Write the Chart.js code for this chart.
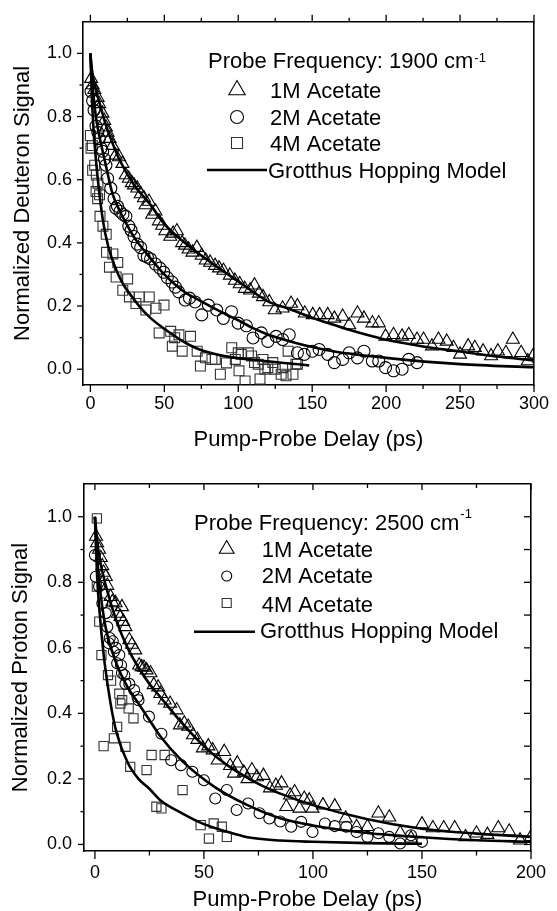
<!DOCTYPE html>
<html>
<head>
<meta charset="utf-8">
<script src="https://cdn.jsdelivr.net/npm/chart.js@4.4.1/dist/chart.umd.min.js"></script>
<style>
html,body{margin:0;padding:0;background:#fff;width:557px;height:911px;overflow:hidden}
.box{position:absolute;left:0;width:557px}
canvas{display:block}
</style>
</head>
<body>
<div class="box" style="top:0;height:460px"><canvas id="c1" width="557" height="460"></canvas></div>
<div class="box" style="top:460px;height:451px"><canvas id="c2" width="557" height="451"></canvas></div>
<script>
// ================= DATA =================
const seriesLabels = ['1M Acetate', '2M Acetate', '4M Acetate', 'Grotthus Hopping Model'];
const xTitle = 'Pump-Probe Delay (ps)';
const topYTitle = 'Normalized Deuteron Signal';
const botYTitle = 'Normalized Proton Signal';
const topLegendTitle = 'Probe Frequency: 1900 cm';
const botLegendTitle = 'Probe Frequency: 2500 cm';
const legendSup = '-1';

// tick values
const topXMajor = [0, 50, 100, 150, 200, 250, 300];
const topXMinor = [25, 75, 125, 175, 225, 275];
const botXMajor = [0, 50, 100, 150, 200];
const botXMinor = [25, 75, 125, 175];
const yMajor = [0, 0.2, 0.4, 0.6, 0.8, 1.0];
const yMinor = [0.1, 0.3, 0.5, 0.7, 0.9];
const yAll = [0, 0.1, 0.2, 0.3, 0.4, 0.5, 0.6, 0.7, 0.8, 0.9, 1.0];

// ---- top panel (1900 cm-1) ----
const top1M_t = [0.5, 1.5, 2.7, 4.9, 6, 8.2, 9.4, 10.5, 11.6, 13, 15, 17, 19.4, 21.7, 23.9, 26, 28, 29.5, 31.7, 34, 36.2, 37.3, 39.6, 41.8, 44, 46.3, 48.5, 50.7, 54, 56, 58.5, 62, 64, 66.4, 69, 72, 75.3, 78, 81, 84.3, 87, 90, 94.3, 97.7, 101, 104.4, 108, 111, 114, 116.7, 121, 124.7, 130, 135.7, 140, 145, 150.4, 155, 160.5, 165, 170.6, 175, 180.6, 185, 190.7, 195, 199.6, 205, 210.8, 215.3, 220.9, 225.3, 231, 235.4, 241, 245.5, 250, 255.5, 260, 265.6, 271, 275.6, 281, 285.7, 291.3, 295.8, 300];
const top1M_v = [0.92, 0.9, 0.885, 0.86, 0.84, 0.81, 0.787, 0.766, 0.75, 0.73, 0.708, 0.677, 0.672, 0.651, 0.615, 0.604, 0.59, 0.583, 0.573, 0.555, 0.542, 0.52, 0.531, 0.49, 0.5, 0.469, 0.455, 0.4375, 0.42, 0.43, 0.4375, 0.4, 0.392, 0.38, 0.37, 0.385, 0.36, 0.345, 0.338, 0.328, 0.32, 0.3125, 0.297, 0.281, 0.27, 0.255, 0.25, 0.266, 0.24, 0.229, 0.213, 0.1875, 0.193, 0.208, 0.2, 0.177, 0.172, 0.172, 0.172, 0.161, 0.167, 0.14, 0.177, 0.161, 0.146, 0.146, 0.104, 0.109, 0.104, 0.109, 0.094, 0.094, 0.073, 0.094, 0.088, 0.068, 0.047, 0.073, 0.068, 0.057, 0.042, 0.057, 0.052, 0.094, 0.052, 0.026, 0.047];

const top2M_t = [0.4, 1.5, 2.5, 3.8, 5, 6, 7.2, 8.3, 9.5, 10.5, 11.6, 13.8, 16, 17.2, 18.3, 20, 22, 24, 26, 27.5, 29.5, 31.7, 34, 36.2, 38.5, 40.7, 44, 47, 49.6, 52, 55.2, 57.5, 59.7, 64.1, 67, 70.8, 75.3, 79.8, 85.4, 89.9, 95.4, 99.9, 105.5, 110, 115.6, 120, 125.6, 130, 134.5, 140, 144.6, 150.2, 154.7, 160.5, 165, 170.6, 175, 180.6, 185, 190.7, 195, 199.6, 205, 210.8, 215.3, 220.9];
const top2M_v = [0.88, 0.85, 0.82, 0.77, 0.75, 0.73, 0.7, 0.69, 0.665, 0.646, 0.604, 0.573, 0.54, 0.51, 0.516, 0.5, 0.49, 0.484, 0.453, 0.44, 0.42, 0.396, 0.385, 0.36, 0.355, 0.349, 0.333, 0.32, 0.307, 0.29, 0.276, 0.26, 0.245, 0.219, 0.225, 0.213, 0.172, 0.203, 0.1875, 0.161, 0.182, 0.146, 0.1375, 0.099, 0.115, 0.088, 0.104, 0.094, 0.109, 0.052, 0.047, 0.057, 0.0625, 0.047, 0.021, 0.031, 0.052, 0.036, 0.057, 0.026, 0.026, 0.005, -0.005, 0, 0.031, 0.021];

const top4M_t = [0, 0.4, 1.3, 1.5, 2.9, 3.8, 4, 4.9, 5.1, 6.2, 6.5, 8.5, 10.7, 10.9, 12.9, 15.2, 17.4, 18.5, 21.9, 25.2, 26.4, 30.8, 33, 37.5, 39.8, 44.3, 46.5, 49.8, 54.3, 55.4, 57, 59.9, 62.1, 67.7, 72.2, 74.4, 77.8, 82.2, 84.5, 87.9, 92, 95.6, 98, 100, 100.5, 102, 104.6, 106.8, 109, 111, 113.5, 114.7, 116.7, 118, 120, 123.4, 125, 129, 130, 132.3, 133.7, 137, 139, 140];
const top4M_v = [0.74, 0.7, 0.708, 0.63, 0.646, 0.5625, 0.615, 0.54, 0.589, 0.552, 0.484, 0.453, 0.427, 0.37, 0.323, 0.365, 0.292, 0.338, 0.25, 0.286, 0.229, 0.208, 0.229, 0.1875, 0.229, 0.193, 0.115, 0.203, 0.12, 0.073, 0.1, 0.109, 0.057, 0.104, 0.057, 0.01, 0.036, 0.031, 0.031, -0.016, 0.02, 0.068, 0.031, 0.052, -0.005, 0.047, -0.037, 0.052, 0.042, 0.021, 0.016, -0.031, 0.031, 0, 0.005, 0.021, 0, -0.016, 0.005, -0.021, 0.057, -0.016, 0.016, 0.016];

const topFit1M_t = [0, 1, 2, 4, 7, 10, 15, 20, 30, 40, 50, 60, 75, 90, 100, 110, 120, 135, 150, 165, 175, 190, 200, 225, 250, 275, 300];
const topFit1M_v = [1.0, 0.95, 0.92, 0.88, 0.83, 0.78, 0.715, 0.66, 0.58, 0.525, 0.46, 0.415, 0.36, 0.31, 0.278, 0.245, 0.215, 0.19, 0.163, 0.14, 0.125, 0.105, 0.093, 0.072, 0.056, 0.04, 0.028];
const topFit2M_t = [0, 1, 2, 4, 6, 10, 15, 20, 25, 30, 40, 50, 62, 75, 89, 100, 110, 120, 130, 150, 165, 200, 250, 300];
const topFit2M_v = [1.0, 0.92, 0.87, 0.79, 0.74, 0.655, 0.555, 0.5, 0.455, 0.415, 0.355, 0.3, 0.25, 0.215, 0.18, 0.155, 0.13, 0.11, 0.095, 0.07, 0.056, 0.036, 0.016, 0.006];
const topFit4M_t = [0, 1, 2, 4, 6, 8.5, 12, 17, 22, 28, 33, 40, 50, 62, 73, 89, 100, 120, 135, 148];
const topFit4M_v = [1.0, 0.86, 0.77, 0.65, 0.56, 0.47, 0.39, 0.32, 0.27, 0.23, 0.2, 0.165, 0.128, 0.09, 0.064, 0.043, 0.035, 0.025, 0.018, 0.012];

// ---- bottom panel (2500 cm-1) ----
const bot1M_t = [0.5, 1, 1.9, 2.7, 3.4, 4, 5, 5.7, 7.2, 8, 9.5, 10.5, 11.7, 12.4, 13, 14, 15.8, 17, 18.5, 20.3, 21.4, 22.5, 23.7, 25.5, 27, 29, 30, 32, 34.5, 37.5, 39, 41, 42.8, 45, 47, 49.5, 52, 54, 56.3, 59.3, 62, 63.8, 65.3, 68.3, 70, 72, 74.3, 77.3, 80.3, 83, 85.6, 87.8, 89.5, 91.6, 93.8, 96, 98.3, 99.8, 104.6, 110, 115, 120, 125, 130, 135, 140, 145, 150, 155, 160, 165, 170, 175, 180, 185, 190, 195, 200];
const bot1M_v = [0.94, 0.92, 0.9, 0.875, 0.85, 0.83, 0.817, 0.79, 0.756, 0.74, 0.737, 0.705, 0.695, 0.725, 0.68, 0.664, 0.624, 0.61, 0.593, 0.547, 0.542, 0.54, 0.532, 0.523, 0.487, 0.48, 0.46, 0.44, 0.43, 0.41, 0.364, 0.37, 0.36, 0.334, 0.32, 0.294, 0.3, 0.288, 0.257, 0.283, 0.24, 0.217, 0.248, 0.22, 0.2, 0.227, 0.206, 0.21, 0.172, 0.18, 0.187, 0.115, 0.15, 0.16, 0.11, 0.14, 0.135, 0.11, 0.12, 0.117, 0.08, 0.054, 0.054, 0.095, 0.083, 0.035, 0.019, 0.062, 0.05, 0.05, 0.05, 0.023, 0.034, 0.03, 0.05, 0.04, 0.013, 0.023];

const bot2M_t = [0, 0.4, 1.9, 3.4, 5, 5.7, 6.4, 6.8, 8.2, 8.7, 9.7, 10.2, 11.2, 12, 12.4, 13.5, 14, 15.8, 18, 19.5, 20, 24.8, 30.5, 35, 39.5, 44.7, 50, 55.2, 60.5, 65, 70.3, 75.5, 80, 85, 90, 94.6, 99.8, 105.5, 110, 115.3, 120, 125, 130, 135, 140, 145, 150];
const bot2M_v = [0.883, 0.817, 0.787, 0.736, 0.706, 0.664, 0.614, 0.63, 0.62, 0.588, 0.6, 0.553, 0.578, 0.547, 0.523, 0.517, 0.49, 0.49, 0.471, 0.45, 0.44, 0.39, 0.338, 0.257, 0.242, 0.222, 0.196, 0.14, 0.166, 0.105, 0.125, 0.095, 0.079, 0.07, 0.054, 0.069, 0.038, 0.064, 0.056, 0.054, 0.038, 0.023, 0.034, 0.023, 0.003, 0.028, 0.008];

const bot4M_t = [0.9, 0.9, 2, 3, 4, 6, 7.4, 8.7, 10.2, 11.2, 11.7, 12.5, 14, 15.5, 16.2, 17.7, 23.7, 26, 28.2, 30.5, 32, 40.2, 48.5, 52.3, 54.5, 58.2, 60.5];
const bot4M_v = [0.995, 0.787, 0.68, 0.578, 0.3, 0.517, 0.5, 0.324, 0.359, 0.46, 0.43, 0.44, 0.298, 0.415, 0.237, 0.385, 0.227, 0.273, 0.115, 0.11, 0.273, 0.166, 0.059, 0.018, 0.064, 0.054, 0.023];

const botFit1M_t = [0, 1, 2, 5, 10, 15, 20, 25, 30, 40, 50, 60, 75, 85, 100, 125, 150, 175, 200];
const botFit1M_v = [1.0, 0.93, 0.88, 0.79, 0.68, 0.6, 0.54, 0.49, 0.45, 0.37, 0.3, 0.245, 0.185, 0.155, 0.12, 0.077, 0.048, 0.033, 0.023];
const botFit2M_t = [0, 1, 2, 5, 10, 15, 20, 25, 30, 40, 55, 70, 85, 100, 125, 150, 175, 200];
const botFit2M_v = [1.0, 0.88, 0.8, 0.66, 0.55, 0.48, 0.43, 0.38, 0.33, 0.255, 0.175, 0.12, 0.08, 0.058, 0.035, 0.022, 0.013, 0.008];
const botFit4M_t = [0, 1, 2, 4, 6, 8, 10, 15, 20, 25, 30, 40, 50, 60, 70, 85, 100, 125, 150];
const botFit4M_v = [1.0, 0.82, 0.72, 0.58, 0.48, 0.4, 0.34, 0.25, 0.2, 0.17, 0.135, 0.095, 0.062, 0.04, 0.022, 0.012, 0.008, 0.004, 0.002];

// ================= RENDERING =================
const FONT = "'Liberation Sans', Arial, Helvetica, sans-serif";
Chart.defaults.font.family = FONT;
Chart.defaults.color = '#000';

function pts(xs, ys) { return xs.map((x, i) => ({x: x, y: ys[i]})); }
function markers(label, xs, ys, style, r, color) {
  return {label: label, data: pts(xs, ys), showLine: false, pointStyle: style, pointRadius: r,
    pointBorderWidth: 1.1, pointBorderColor: color, pointBackgroundColor: 'rgba(0,0,0,0)', order: 2};
}
function curve(label, xs, ys) {
  return {label: label, data: pts(xs, ys), showLine: true, pointRadius: 0, borderColor: '#000',
    borderWidth: 2.6, cubicInterpolationMode: 'monotone', fill: false, order: 1};
}

function shape(ctx, style, x, y, r) {
  if (style === 'triangle') {
    ctx.moveTo(x, y - r);
    ctx.lineTo(x + r * Math.sin(2 * Math.PI / 3), y + r * 0.5);
    ctx.lineTo(x - r * Math.sin(2 * Math.PI / 3), y + r * 0.5);
    ctx.closePath();
  } else if (style === 'circle') {
    ctx.arc(x, y, r, 0, Math.PI * 2);
  } else {
    const s = r * Math.SQRT1_2;
    ctx.rect(x - s, y - s, 2 * s, 2 * s);
  }
}

function tickPlugin(marks) {
  return {id: 'tickMarks', afterDraw(chart) {
    const ctx = chart.ctx, a = chart.chartArea;
    ctx.save(); ctx.strokeStyle = '#000'; ctx.lineWidth = 1.3;
    for (const m of marks) {
      const sc = chart.scales[m.scale];
      for (const v of m.values) {
        const p = sc.getPixelForValue(v);
        ctx.beginPath();
        if (m.side === 'bottom') { ctx.moveTo(p, a.bottom); ctx.lineTo(p, a.bottom + m.len); }
        else if (m.side === 'top') { ctx.moveTo(p, a.top); ctx.lineTo(p, a.top - m.len); }
        else if (m.side === 'left') { ctx.moveTo(a.left, p); ctx.lineTo(a.left - m.len, p); }
        else { ctx.moveTo(a.right, p); ctx.lineTo(a.right + m.len, p); }
        ctx.stroke();
      }
    }
    ctx.restore();
  }};
}

function legendPlugin(spec) {
  return {id: 'legendBox', afterDraw(chart) {
    const ctx = chart.ctx;
    ctx.save();
    ctx.fillStyle = '#000'; ctx.strokeStyle = '#000';
    ctx.textAlign = 'left'; ctx.textBaseline = 'alphabetic';
    ctx.font = '22px ' + FONT;
    ctx.fillText(spec.title, spec.tx, spec.ty);
    const w = ctx.measureText(spec.title).width;
    ctx.font = '13px ' + FONT;
    ctx.fillText(legendSup, spec.tx + w + 1, spec.supY);
    ctx.font = '22px ' + FONT;
    spec.items.forEach((e, i) => {
      ctx.beginPath();
      if (e.kind === 'line') {
        ctx.lineWidth = 2.6;
        ctx.moveTo(e.x1, e.y); ctx.lineTo(e.x2, e.y);
        ctx.strokeStyle = '#000';
      } else {
        ctx.lineWidth = 1.1;
        ctx.strokeStyle = e.color;
        shape(ctx, e.style, e.x, e.y, e.r);
      }
      ctx.stroke();
      ctx.fillText(seriesLabels[i], e.textX, e.base);
    });
    ctx.restore();
  }};
}

function build(id, g) {
  const W = 557;
  const common = {type: 'linear', grid: {display: false, drawTicks: false},
    border: {display: true, color: '#000', width: 1.6}};
  return new Chart(document.getElementById(id), {
    type: 'scatter',
    data: {datasets: g.datasets},
    options: {
      responsive: false, animation: false, devicePixelRatio: 1, events: [],
      layout: {padding: 0},
      plugins: {legend: {display: false}, tooltip: {enabled: false}},
      scales: {
        x: Object.assign({}, common, {
          position: 'bottom', min: g.xmin, max: g.xmax,
          afterBuildTicks: s => { s.ticks = g.xMajor.map(v => ({value: v})); },
          ticks: {font: {size: 18}, color: '#000', padding: g.xPad, maxRotation: 0, autoSkip: false,
            callback: v => String(v)},
          title: {display: true, text: xTitle, color: '#000', font: {size: 22, lineHeight: 1},
            padding: {top: 0, bottom: g.xTitlePad}},
          afterFit: s => { s.height = g.H - g.bottom; }
        }),
        x2: Object.assign({}, common, {
          position: 'top', min: g.xmin, max: g.xmax,
          ticks: {display: false},
          afterFit: s => { s.height = g.top; }
        }),
        y: Object.assign({}, common, {
          position: 'left', min: g.ymin, max: g.ymax,
          afterBuildTicks: s => { s.ticks = yMajor.map(v => ({value: v})); },
          ticks: {font: {size: 18}, color: '#000', padding: g.yPad, autoSkip: false,
            callback: v => Number(v).toFixed(1)},
          title: {display: true, text: g.yTitle, color: '#000', font: {size: 22, lineHeight: 1},
            padding: {top: g.yTitlePad, bottom: 0}},
          afterFit: s => { s.width = g.left; }
        }),
        y2: Object.assign({}, common, {
          position: 'right', min: g.ymin, max: g.ymax,
          ticks: {display: false},
          afterFit: s => { s.width = W - g.right; }
        })
      }
    },
    plugins: [tickPlugin(g.marks), legendPlugin(g.legend)]
  });
}

// ---- top chart ----
build('c1', {
  H: 460, left: 83, right: 538, top: 19, bottom: 385,
  xmin: -5, xmax: 300, ymin: -0.05, ymax: 1.1,
  xMajor: topXMajor, xPad: 8, xTitlePad: 9, yPad: 11, yTitlePad: 12, yTitle: topYTitle,
  datasets: [
    markers(seriesLabels[0], top1M_t, top1M_v, 'triangle', 7.5, '#000'),
    markers(seriesLabels[1], top2M_t, top2M_v, 'circle', 6, '#000'),
    markers(seriesLabels[2], top4M_t, top4M_v, 'rect', 7, '#333'),
    curve(seriesLabels[3], topFit1M_t, topFit1M_v),
    curve(seriesLabels[3], topFit2M_t, topFit2M_v),
    curve(seriesLabels[3], topFit4M_t, topFit4M_v)
  ],
  marks: [
    {scale: 'x', side: 'bottom', values: topXMajor, len: 7},
    {scale: 'x', side: 'bottom', values: topXMinor, len: 4},
    {scale: 'x', side: 'top', values: topXMajor, len: 7},
    {scale: 'x', side: 'top', values: topXMinor, len: 4},
    {scale: 'y', side: 'left', values: yMajor, len: 6},
    {scale: 'y', side: 'left', values: yMinor, len: 3.5}
  ],
  legend: {
    title: topLegendTitle, tx: 208, ty: 68, supY: 62,
    items: [
      {kind: 'point', style: 'triangle', r: 9.5, x: 237, y: 90, color: '#000', textX: 270, base: 97.5},
      {kind: 'point', style: 'circle', r: 6.5, x: 237, y: 117, color: '#000', textX: 270, base: 124.5},
      {kind: 'point', style: 'rect', r: 7.8, x: 237, y: 143, color: '#333', textX: 270, base: 151},
      {kind: 'line', x1: 207, x2: 267, y: 170, textX: 268, base: 178}
    ]
  }
});

// ---- bottom chart ----
build('c2', {
  H: 451, left: 84, right: 541, top: 24, bottom: 391,
  xmin: -5, xmax: 200, ymin: -0.02, ymax: 1.1,
  xMajor: botXMajor, xPad: 11, xTitlePad: 0, yPad: 12, yTitlePad: 10, yTitle: botYTitle,
  datasets: [
    markers(seriesLabels[0], bot1M_t, bot1M_v, 'triangle', 7.5, '#000'),
    markers(seriesLabels[1], bot2M_t, bot2M_v, 'circle', 5.5, '#000'),
    markers(seriesLabels[2], bot4M_t, bot4M_v, 'rect', 6.5, '#333'),
    curve(seriesLabels[3], botFit1M_t, botFit1M_v),
    curve(seriesLabels[3], botFit2M_t, botFit2M_v),
    curve(seriesLabels[3], botFit4M_t, botFit4M_v)
  ],
  marks: [
    {scale: 'x', side: 'bottom', values: botXMajor, len: 8},
    {scale: 'x', side: 'bottom', values: botXMinor, len: 4.5},
    {scale: 'x', side: 'top', values: botXMajor, len: -6},
    {scale: 'x', side: 'top', values: botXMinor, len: -4},
    {scale: 'y', side: 'left', values: yMajor, len: 6},
    {scale: 'y', side: 'left', values: yMinor, len: 3.5},
    {scale: 'y', side: 'right', values: yAll, len: -7}
  ],
  legend: {
    title: botLegendTitle, tx: 194, ty: 70, supY: 57.5,
    items: [
      {kind: 'point', style: 'triangle', r: 8.5, x: 226.7, y: 89, color: '#000', textX: 261.7, base: 96.7},
      {kind: 'point', style: 'circle', r: 5, x: 226.7, y: 116, color: '#000', textX: 261.7, base: 123.3},
      {kind: 'point', style: 'rect', r: 6.4, x: 226.7, y: 143, color: '#333', textX: 261.7, base: 151.7},
      {kind: 'line', x1: 194, x2: 255, y: 171.7, textX: 260, base: 178.3}
    ]
  }
});
</script>
</body>
</html>
